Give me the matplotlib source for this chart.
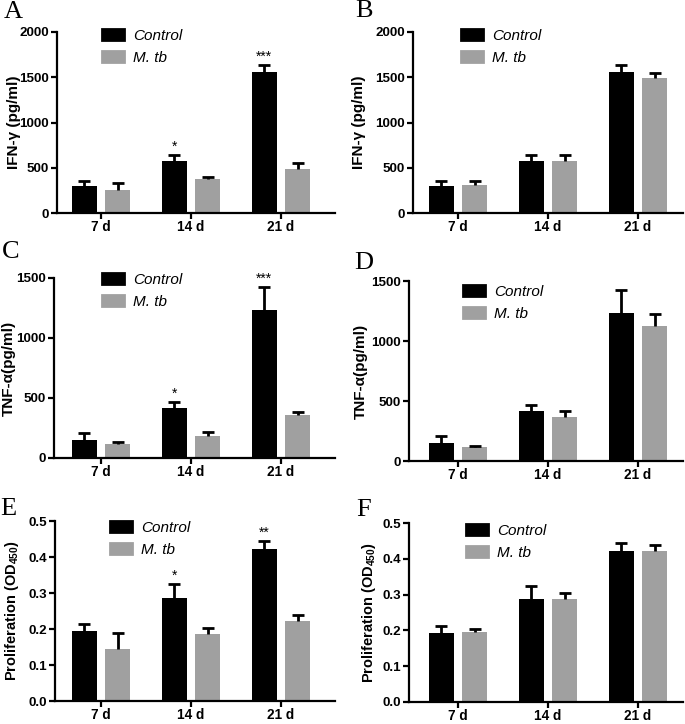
import numpy as np
import matplotlib
matplotlib.use("Agg")
import matplotlib.pyplot as plt
from matplotlib.patches import Patch
from matplotlib.transforms import blended_transform_factory

plt.rcParams["font.family"] = ["Liberation Sans", "DejaVu Sans"]
plt.rcParams["mathtext.fontset"] = "custom"
plt.rcParams["mathtext.rm"] = "Liberation Sans:bold"
plt.rcParams["mathtext.it"] = "Liberation Sans:bold"
plt.rcParams["mathtext.bf"] = "Liberation Sans:bold"

jours = ["7 d", "14 d", "21 d"]
series = ["Control", "M. tb"]

# A / B : IFN-gamma
ifn_ctrl = [300, 580, 1556]
ifn_ctrl_err = [51, 60, 78]
ifn_mtb_a = [251, 373, 488]
ifn_mtb_a_err = [82, 27, 59]
ifn_mtb_b = [307, 580, 1490]
ifn_mtb_b_err = [44, 60, 59]

# C / D : TNF-alpha
tnf_ctrl = [153, 414, 1236]
tnf_ctrl_err = [55, 53, 189]
tnf_mtb_c = [117, 181, 361]
tnf_mtb_c_err = [16, 33, 22]
tnf_mtb_d = [114, 367, 1128]
tnf_mtb_d_err = [14, 52, 94]

# E / F : proliferation
od_ctrl = [0.194, 0.287, 0.421]
od_ctrl_err = [0.019, 0.037, 0.024]
od_mtb_e = [0.145, 0.186, 0.223]
od_mtb_e_err = [0.045, 0.017, 0.015]
od_mtb_f = [0.195, 0.287, 0.423]
od_mtb_f_err = [0.008, 0.017, 0.016]

etoiles_a = ["", "*", "***"]
etoiles_c = ["", "*", "***"]
etoiles_e = ["", "*", "**"]

NOIR = "#000000"
GRIS = "#a0a0a0"
W, H = 685, 724
PAS = 90.0  # pixels entre deux groupes


def rect(l, r, t, b):
    return [l / W, 1 - b / H, (r - l) / W, (b - t) / H]


def panneau(fig, lettre, pix, c0, ctrl, ctrl_err, mtb, mtb_err, ylim, yticks,
            ylabel, ylab_x, leg_xy, lettre_xy, etoiles=None, fmt="{:.0f}", ylsize=11):
    l, r, t, b = pix
    ax = fig.add_axes(rect(l, r, t, b))
    x = np.arange(len(jours))
    dx, bw = 0.187, 0.275
    for off, m, e, c in ((-dx, ctrl, ctrl_err, NOIR), (dx, mtb, mtb_err, GRIS)):
        m = np.asarray(m)
        e = np.asarray(e)
        ax.bar(x + off, m, width=bw, color=c, zorder=2)
        ax.vlines(x + off, m, m + e, color=NOIR, lw=2, zorder=3)
        ax.hlines(m + e, x + off - 0.065, x + off + 0.065, color=NOIR, lw=2, zorder=3)
    if etoiles:
        for i, s in enumerate(etoiles):
            if s:
                ax.annotate(s, (x[i] - dx, ctrl[i] + ctrl_err[i]), xytext=(0, 1),
                            textcoords="offset points", ha="center", va="bottom",
                            fontsize=10)
    ax.set_xlim((l - c0) / PAS, (r - c0) / PAS)
    ax.set_ylim(*ylim)
    ax.set_yticks(yticks)
    ax.set_yticklabels([fmt.format(v) for v in yticks], fontweight="bold", fontsize=9.6)
    ax.set_xticks(x)
    ax.set_xticklabels(jours, fontweight="bold", fontsize=9.8)
    ax.set_ylabel(ylabel, fontweight="bold", fontsize=ylsize)
    ax.yaxis.set_label_coords(ylab_x / W, 0.5,
                              transform=blended_transform_factory(fig.transFigure, ax.transAxes))
    for s in ("top", "right"):
        ax.spines[s].set_visible(False)
    for s in ("left", "bottom"):
        ax.spines[s].set_linewidth(1.6)
    ax.tick_params(width=1.6, length=4.5, pad=1.5)
    ax.tick_params(axis="x", pad=0.5)

    handles = [Patch(facecolor=NOIR, edgecolor=NOIR, lw=2, joinstyle="round"),
               Patch(facecolor=GRIS, edgecolor=GRIS, lw=2, joinstyle="round")]
    ax.legend(handles, series, loc="upper left",
              bbox_to_anchor=(leg_xy[0] / W, 1 - leg_xy[1] / H),
              bbox_transform=fig.transFigure, frameon=False,
              prop={"style": "italic", "size": 11},
              handlelength=1.45, handleheight=0.7, handletextpad=0.6,
              labelspacing=0.5, borderpad=0, borderaxespad=0)
    fig.text(lettre_xy[0] / W, 1 - lettre_xy[1] / H, lettre, family="Liberation Serif",
             fontsize=19, va="center", ha="left")
    return ax


fig = plt.figure(figsize=(W / 100, H / 100), dpi=100)

panneau(fig, "A", (57, 335, 32, 213), 101, ifn_ctrl, ifn_ctrl_err, ifn_mtb_a,
        ifn_mtb_a_err, (0, 2000), [0, 500, 1000, 1500, 2000], "IFN-γ (pg/ml)", 21,
        (102, 29), (4, 12), etoiles_a)
panneau(fig, "B", (413, 683, 32, 213), 458, ifn_ctrl, ifn_ctrl_err, ifn_mtb_b,
        ifn_mtb_b_err, (0, 2000), [0, 500, 1000, 1500, 2000], "IFN-γ (pg/ml)", 366,
        (461, 29), (355, 11))
panneau(fig, "C", (54, 335, 278, 458), 101, tnf_ctrl, tnf_ctrl_err, tnf_mtb_c,
        tnf_mtb_c_err, (0, 1500), [0, 500, 1000, 1500], "TNF-α(pg/ml)", 16,
        (102, 273), (2, 252), etoiles_c)
panneau(fig, "D", (409, 683, 281, 461), 458, tnf_ctrl, tnf_ctrl_err, tnf_mtb_d,
        tnf_mtb_d_err, (0, 1500), [0, 500, 1000, 1500], "TNF-α(pg/ml)", 368,
        (463, 285), (354, 263))
panneau(fig, "E", (55, 335, 521, 701), 101, od_ctrl, od_ctrl_err, od_mtb_e,
        od_mtb_e_err, (0, 0.5), [0, 0.1, 0.2, 0.3, 0.4, 0.5],
        "Proliferation (OD$_{450}$)", 21, (110, 521), (0, 509), etoiles_e,
        fmt="{:.1f}", ylsize=10.5)
panneau(fig, "F", (409, 683, 523, 702), 458, od_ctrl, od_ctrl_err, od_mtb_f,
        od_mtb_f_err, (0, 0.5), [0, 0.1, 0.2, 0.3, 0.4, 0.5],
        "Proliferation (OD$_{450}$)", 378, (466, 524), (356, 510), fmt="{:.1f}",
        ylsize=10.5)

fig.savefig("out.png", dpi=100)
